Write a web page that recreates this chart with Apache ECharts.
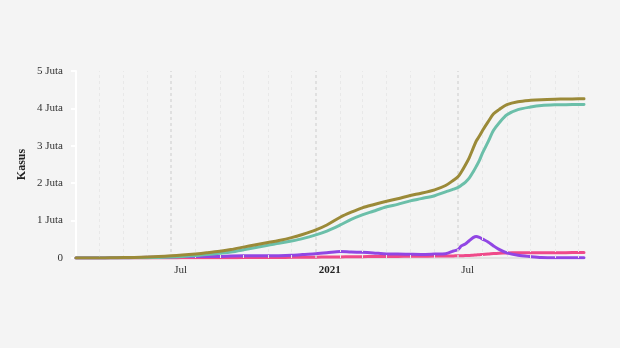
<!DOCTYPE html>
<html>
<head>
<meta charset="utf-8">
<script src="https://cdn.jsdelivr.net/npm/echarts@6/dist/echarts.min.js"></script>
<style>
html,body{margin:0;padding:0;background:#f4f4f4;}
#chart{width:620px;height:348px;}
</style>
</head>
<body>
<div id="chart"></div>
<script>
// Dates of observations
var dates = ['2020-03-02','2020-03-15','2020-04-01','2020-04-15','2020-05-01','2020-05-15','2020-06-01','2020-06-15',
'2020-07-01','2020-07-15','2020-08-01','2020-08-15','2020-09-01','2020-09-15','2020-10-01','2020-10-15',
'2020-11-01','2020-11-15','2020-12-01','2020-12-15','2021-01-01','2021-01-15','2021-02-01','2021-02-15',
'2021-03-01','2021-03-15','2021-04-01','2021-04-15','2021-05-01','2021-05-15','2021-06-01','2021-06-15','2021-06-25',
'2021-07-01','2021-07-05','2021-07-10','2021-07-15','2021-07-20','2021-07-24','2021-07-28','2021-08-01','2021-08-08','2021-08-15',
'2021-08-22','2021-09-01','2021-09-15','2021-10-01','2021-10-15','2021-11-01','2021-11-15','2021-12-01','2021-12-08'];
// Total cases (positif)
var positif = [2,117,1677,5136,10551,16496,26940,39294,
57770,78572,109936,137468,177571,225030,291182,349160,
412784,467113,543975,629429,751270,882418,1089308,1223930,
1341314,1425044,1517854,1583182,1672880,1731652,1821703,1937652,2080000,
2178272,2300000,2480000,2680000,2930000,3127826,3260000,3409658,3639616,3854354,
3967048,4100138,4178164,4215104,4233014,4245373,4251423,4257243,4258980];
// Recovered (sembuh)
var sembuh = [0,8,103,446,1591,3803,7637,15123,
25595,37636,67919,91321,128057,161065,218487,273661,
341942,391991,454879,518211,617936,719643,883682,1032005,
1151915,1249947,1369530,1433520,1526978,1588033,1665938,1768411,1840000,
1890287,1945000,2025000,2135000,2300000,2450000,2610000,2809538,3105606,3413362,
3612000,3831112,3965803,4036049,4077325,4095948,4099993,4105450,4107419];
// Active cases (dirawat)
var dirawat = [2,104,1417,4221,8160,11617,17662,21973,
29241,37226,36824,40076,42009,55000,61839,63231,
56899,59974,72015,92107,111196,137529,175628,158558,
153074,136524,107270,106756,100106,95796,105361,115488,186752,
229961,323651,373734,461235,544858,574813,551000,506001,430000,323404,
228676,135350,72679,36997,12640,5817,7736,7943,7658];
// Deaths (meninggal)
var meninggal = [0,5,157,469,800,1076,1641,2198,
2934,3710,5193,6071,7505,8965,10856,12268,
13943,15148,17081,19111,22138,25246,29998,33367,
36325,38573,41054,42906,45796,47823,50404,53753,56729,
58024,61140,65457,69210,76200,82013,86835,94119,104010,117588,
126372,133676,139682,142058,143049,143608,143694,143850,143903];
// Month gridlines and labels
var gridMonths = ['2020-04-01','2020-05-01','2020-06-01','2020-07-01','2020-08-01','2020-09-01','2020-10-01','2020-11-01','2020-12-01',
'2021-01-01','2021-02-01','2021-03-01','2021-04-01','2021-05-01','2021-06-01','2021-07-01','2021-08-01','2021-09-01','2021-10-01','2021-11-01','2021-12-01'];
var majorMonths = ['2020-07-01','2021-01-01','2021-07-01'];
var majorLabels = ['Jul','2021','Jul'];
var yTicks = [0,1000000,2000000,3000000,4000000,5000000];
var yTickLabels = ['0','1 Juta','2 Juta','3 Juta','4 Juta','5 Juta'];

function ts(d){ return new Date(d + 'T00:00:00Z').getTime(); }
function pairs(arr){ return dates.map(function(d,i){ return [ts(d), arr[i]]; }); }

var FONT = '"Liberation Serif", "DejaVu Serif", serif';

var gridLineData = gridMonths.map(function(m){
  var major = majorMonths.indexOf(m) >= 0;
  return {xAxis: ts(m), lineStyle: {color: major ? '#d9d9d9' : '#e8e8e8', width: major ? 1.5 : 1, type: [3,3]}};
});

function lineSeries(name, arr, color, z){
  return {name: name, type: 'line', data: pairs(arr), showSymbol: false, smooth: 0.3, z: z,
    lineStyle: {color: color, width: 3, cap: 'round', join: 'round'}, itemStyle: {color: color}};
}

var chart = echarts.init(document.getElementById('chart'), null, {renderer:'canvas'});
var option = {
  backgroundColor: '#f4f4f4',
  animation: false,
  grid: {left: 76, right: 36, top: 71, bottom: 90, containLabel: false},
  xAxis: {
    type: 'value',
    min: ts(dates[0]),
    max: ts(dates[dates.length-1]),
    axisLine: {show: true, lineStyle: {color: '#dcdcdc', width: 1.5}},
    axisTick: {show: false},
    splitLine: {show: false},
    axisLabel: {
      customValues: majorMonths.map(ts),
      align: 'left',
      padding: [0,0,0,3],
      margin: 7,
      color: '#333',
      fontFamily: FONT,
      fontSize: 11,
      formatter: function(v){
        for (var i=0;i<majorMonths.length;i++){
          if (Math.abs(ts(majorMonths[i]) - v) < 86400000) {
            return majorLabels[i] === '2021' ? '{b|2021}' : majorLabels[i];
          }
        }
        return '';
      },
      rich: {b: {fontWeight: 'bold', fontFamily: FONT, fontSize: 11, color: '#222'}}
    }
  },
  yAxis: {
    type: 'value',
    min: 0, max: 5000000, interval: 1000000,
    name: 'Kasus',
    nameLocation: 'middle',
    nameGap: 48,
    nameMoveOverlap: false,
    nameRotate: 90,
    nameTextStyle: {fontFamily: FONT, fontWeight: 'bold', fontSize: 12, color: '#222'},
    axisLine: {show: true, lineStyle: {color: '#ffffff', width: 2}},
    axisTick: {show: true, length: 5, lineStyle: {color: '#ffffff', width: 2}},
    splitLine: {show: false},
    axisLabel: {
      margin: 13,
      color: '#333',
      fontFamily: FONT,
      fontSize: 11,
      formatter: function(v){ var i = yTicks.indexOf(v); return i >= 0 ? yTickLabels[i] : ''; }
    }
  },
  series: [
    {type: 'line', data: [], z: 1, silent: true,
     markLine: {silent: true, symbol: ['none','none'], label: {show: false}, data: gridLineData, animation: false}},
    lineSeries('Meninggal', meninggal, '#ef4a8a', 3),
    lineSeries('Dirawat', dirawat, '#9146e4', 4),
    lineSeries('Sembuh', sembuh, '#6bbfa9', 5),
    lineSeries('Positif', positif, '#9b8a38', 6)
  ]
};
chart.setOption(option);
</script>
</body>
</html>
